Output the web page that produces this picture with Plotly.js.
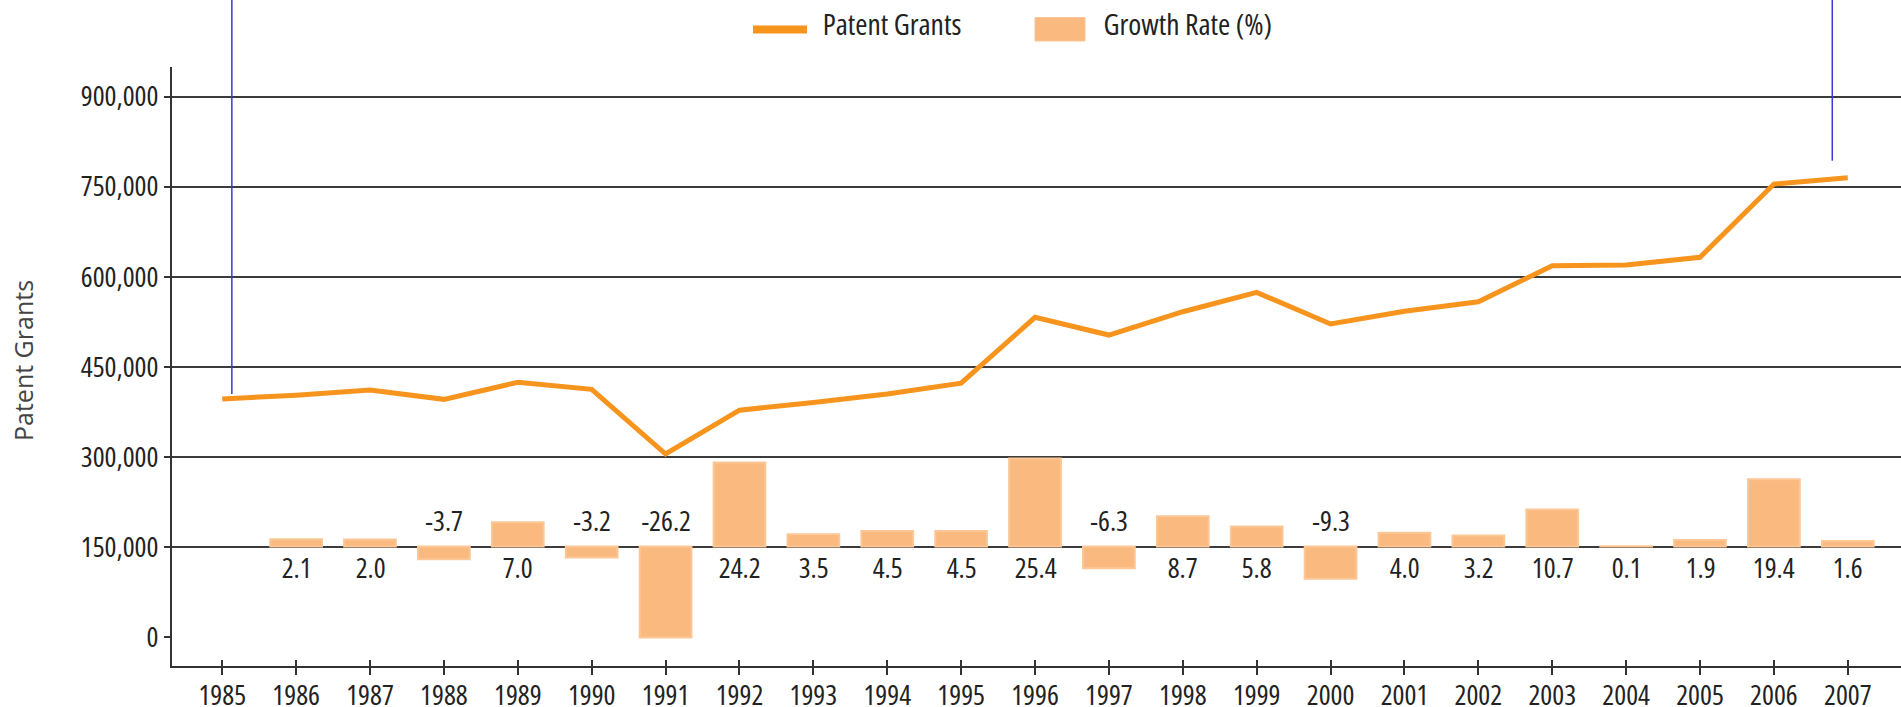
<!DOCTYPE html>
<html>
<head>
<meta charset="utf-8">
<script src="https://cdn.plot.ly/plotly-3.0.1.min.js"></script>
<style>
  html, body { margin: 0; padding: 0; background: #ffffff; }
  #chart { width: 1901px; height: 707px; }
  #chart .xtick text, #chart .ytick text, #chart .annotation-text { font-stretch: 75%; }
  #chart .annotation[data-index="0"] .annotation-text { font-stretch: 100%; }
</style>
</head>
<body>
<div id="chart"></div>
<script>
// ---- data ----
const years = [1985, 1986, 1987, 1988, 1989, 1990, 1991, 1992, 1993, 1994, 1995, 1996,
               1997, 1998, 1999, 2000, 2001, 2002, 2003, 2004, 2005, 2006, 2007];
const patentGrants = [396600, 403000, 411500, 396000, 424400, 412700, 305000, 378000,
                      390700, 405000, 423000, 532500, 503000, 541800, 574000, 521400,
                      542500, 558500, 618400, 619600, 632400, 754300, 764900];
const growthRate = [null, 2.1, 2.0, -3.7, 7.0, -3.2, -26.2, 24.2, 3.5, 4.5, 4.5, 25.4,
                    -6.3, 8.7, 5.8, -9.3, 4.0, 3.2, 10.7, 0.1, 1.9, 19.4, 1.6];
const yTickVals = [0, 150000, 300000, 450000, 600000, 750000, 900000];
const gridVals = [150000, 300000, 450000, 600000, 750000, 900000];
const seriesNames = ['Patent Grants', 'Growth Rate (%)'];
const yTitle = 'Patent Grants';

// ---- styling ----
const LINE_COLOR = '#F7941D';
const BAR_COLOR = '#FAB97F';
const BAR_EDGE = '#FBC796';
const INK = '#333333';
const NARROW = "'Open Sans', 'DejaVu Sans Condensed', sans-serif";
const TXT = {family: NARROW, size: 28, color: '#222'};
const LEG = {family: NARROW, size: 29.5, color: '#222'};

const W = 1901, H = 707;
const M = {l: 172, r: 0, t: 67, b: 41};
const plotW = W - M.l - M.r, plotH = H - M.t - M.b;
const xRange = [1984.32, 2007.72];
const yRange = [-47800, 949100];
const y2Range = [-34.44, 138.2];

const xp = px => (px - M.l) / plotW;      // pixel -> paper x
const yp = py => (H - M.b - py) / plotH;  // pixel -> paper y
const yearToPaper = yr => (yr - xRange[0]) / (xRange[1] - xRange[0]);
const valToPaper = v => (v - yRange[0]) / (yRange[1] - yRange[0]);

const traces = [
  {
    type: 'bar', name: seriesNames[1], x: years, y: growthRate, yaxis: 'y2',
    width: 0.7,
    marker: {color: BAR_COLOR, line: {color: BAR_EDGE, width: 2}},
    showlegend: false, hoverinfo: 'x+y'
  },
  {
    type: 'scatter', mode: 'lines', name: seriesNames[0], x: years, y: patentGrants,
    line: {color: LINE_COLOR, width: 5},
    showlegend: false
  },
  {type: 'scatter', mode: 'lines', x: [years[0]], y: [null], yaxis: 'y3', showlegend: false, hoverinfo: 'skip'},
  {type: 'scatter', mode: 'lines', x: [years[0]], y: [null], xaxis: 'x2', showlegend: false, hoverinfo: 'skip'}
];

const annotations = [];
// y-axis title (index 0: keeps normal width)
annotations.push({
  x: xp(23), y: yp(361), xref: 'paper', yref: 'paper', showarrow: false,
  xanchor: 'center', yanchor: 'middle', textangle: -90, text: yTitle,
  font: {family: "'Open Sans', sans-serif", size: 25, color: '#444'}
});

years.forEach((yr, i) => {
  const g = growthRate[i];
  if (g === null || g === undefined) return;
  annotations.push({
    x: yr, y: 0, xref: 'x', yref: 'y2', showarrow: false,
    text: g.toFixed(1), yshift: g >= 0 ? -20.5 : 27,
    xanchor: 'center', yanchor: 'middle',
    font: TXT
  });
});

annotations.push({
  x: xp(891.5), y: yp(23.5), xref: 'paper', yref: 'paper', showarrow: false,
  xanchor: 'center', yanchor: 'middle', text: seriesNames[0],
  font: LEG
});
annotations.push({
  x: xp(1188), y: yp(23.5), xref: 'paper', yref: 'paper', showarrow: false,
  xanchor: 'center', yanchor: 'middle', text: seriesNames[1],
  font: LEG
});

const shapes = [
  {type: 'line', xref: 'paper', yref: 'paper', x0: xp(753), x1: xp(807), y0: yp(29.5), y1: yp(29.5),
   line: {color: LINE_COLOR, width: 8}},
  {type: 'rect', xref: 'paper', yref: 'paper', x0: xp(1035), x1: xp(1085), y0: yp(41), y1: yp(17.5),
   fillcolor: BAR_COLOR, line: {color: BAR_EDGE, width: 1}},
  {type: 'line', xref: 'paper', yref: 'paper',
   x0: yearToPaper(years[0] + 0.13), x1: yearToPaper(years[0] + 0.13),
   y0: valToPaper(patentGrants[0]) + 5 / plotH, y1: 1 + M.t / plotH,
   line: {color: '#3A3AD8', width: 1.5}},
  {type: 'line', xref: 'paper', yref: 'paper',
   x0: yearToPaper(years[years.length - 1] - 0.21), x1: yearToPaper(years[years.length - 1] - 0.21),
   y0: valToPaper(patentGrants[patentGrants.length - 1]) + 17 / plotH, y1: 1 + M.t / plotH,
   line: {color: '#3A3AD8', width: 1.5}}
];

const layout = {
  width: W, height: H,
  margin: M,
  paper_bgcolor: '#ffffff', plot_bgcolor: '#ffffff',
  showlegend: false,
  bargap: 0,
  xaxis: {
    range: xRange, tickmode: 'array', tickvals: years, ticktext: years.map(String),
    ticks: 'outside', ticklen: 7, tickwidth: 2, tickcolor: INK,
    ticklabelstandoff: -4,
    showline: true, linecolor: INK, linewidth: 2,
    showgrid: false, zeroline: false, fixedrange: true,
    tickfont: TXT
  },
  xaxis2: {
    overlaying: 'x', anchor: 'y', range: xRange, tickmode: 'array', tickvals: years,
    ticks: 'inside', ticklen: 6, tickwidth: 2, tickcolor: INK,
    showticklabels: false, showline: false, showgrid: false, zeroline: false, fixedrange: true
  },
  yaxis: {
    range: yRange, tickmode: 'array', tickvals: yTickVals, tickformat: ',d',
    ticks: 'outside', ticklen: 6, tickwidth: 2, tickcolor: INK,
    showline: true, linecolor: INK, linewidth: 2,
    showgrid: false, zeroline: false, fixedrange: true,
    tickfont: TXT
  },
  yaxis2: {
    overlaying: 'y', range: y2Range, visible: false, fixedrange: true
  },
  yaxis3: {
    overlaying: 'y', anchor: 'x', range: yRange, tickmode: 'array', tickvals: gridVals,
    showgrid: true, gridcolor: '#3c3c3c', gridwidth: 2,
    showticklabels: false, ticks: '', showline: false, zeroline: false, fixedrange: true
  },
  annotations: annotations,
  shapes: shapes
};

Plotly.newPlot('chart', traces, layout, {displayModeBar: false, staticPlot: true});
</script>
</body>
</html>
